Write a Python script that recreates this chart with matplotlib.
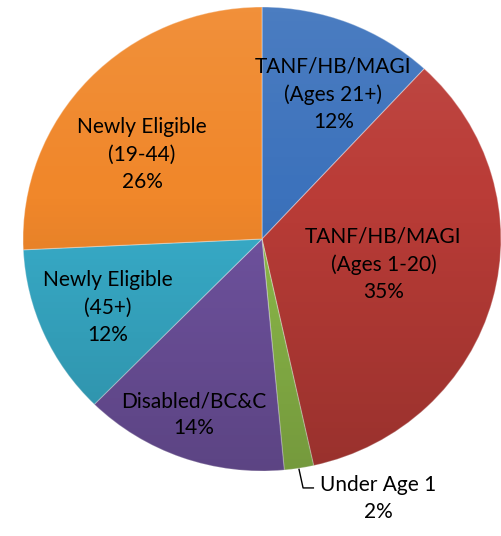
import numpy as np
import matplotlib
matplotlib.use("Agg")
import matplotlib.pyplot as plt

# enrollment shares, clockwise from 12 o'clock
labels = ["TANF/HB/MAGI\n(Ages 21+)", "TANF/HB/MAGI\n(Ages 1-20)", "Under Age 1",
          "Disabled/BC&C", "Newly Eligible\n(45+)", "Newly Eligible\n(19-44)"]
shares = [12, 35, 2, 14, 12, 26]

colors = ["#3C72BC", "#BA3C37", "#8EBB4A", "#7053A0", "#38ADCA", "#F0872A"]
# label placement inside slices: (radius, angle offset from slice middle)
label_pos = [(0.69, -4.2), (0.52, 3.0), None, (0.81, -1.0), (0.71, 0.5), (0.62, 7.7)]

plt.rcParams['font.family'] = ['Lato', 'DejaVu Sans']

fig = plt.figure(figsize=(5.02, 5.36), dpi=100)
W, H = 502, 536
# axes box = bounding box of the (slightly squashed) pie
ax = fig.add_axes([23 / W, (H - 471) / H, 478 / W, 464 / H])

wedges, _ = ax.pie(shares, colors=colors, startangle=90, counterclock=False,
                   radius=1, wedgeprops=dict(edgecolor=(1, 1, 1, 0.35), linewidth=0.8))
ax.set_xlim(-1, 1)
ax.set_ylim(-1, 1)
ax.set_aspect('auto')
ax.axis('off')

# light-to-dark vertical shading on each slice
yy = np.linspace(1, 0, 256)[:, None] * np.ones((1, 4))
shade = np.zeros((256, 4, 4))
shade[..., :3] = np.where(yy[..., None] > 0.6, 1.0, 0.0)
shade[..., 3] = np.where(yy > 0.6, (yy - 0.6) * 0.2, (0.6 - yy) * 0.3)
for w in wedges:
    im = ax.imshow(shade, extent=(-1, 1, -1, 1), aspect='auto', zorder=w.get_zorder() + 0.1)
    im.set_clip_path(w)

fs = 15
ls = 1.45
for w, lab, s, pos in zip(wedges, labels, shares, label_pos):
    if pos is None:
        continue
    r, off = pos
    ang = np.deg2rad((w.theta1 + w.theta2) / 2 + off)
    ax.text(r * np.cos(ang), r * np.sin(ang), f"{lab}\n{s}%", ha='center', va='center',
            fontsize=fs, linespacing=ls, color='black', zorder=5)

# leader for the small slice
g = wedges[2]
ang = np.deg2rad((g.theta1 + g.theta2) / 2)
x0, y0 = np.cos(ang), np.sin(ang)
ax.plot([x0, x0 + 0.017, x0 + 0.06], [y0 - 0.005, -1.073, -1.073], color='black', lw=1,
        clip_on=False)
ax.text(0.485, -1.12, f"{labels[2]}\n{shares[2]}%", ha='center', va='center', fontsize=fs,
        linespacing=ls, clip_on=False)

fig.savefig("out.png", dpi=100)
